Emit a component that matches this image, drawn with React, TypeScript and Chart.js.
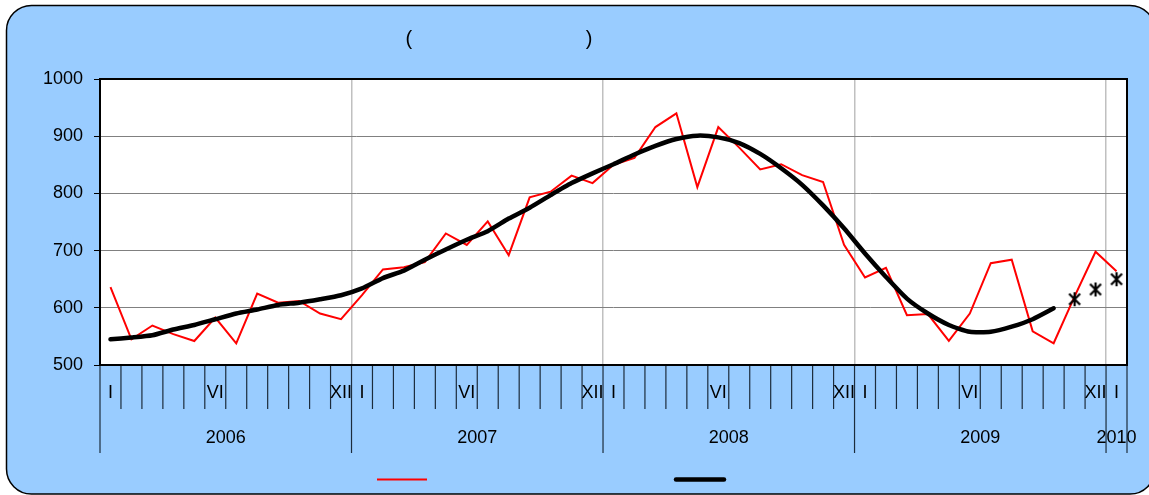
import React, { useEffect, useRef } from "react";
import { Chart, registerables } from "chart.js";

Chart.register(...registerables);

// ---------- data ----------
const years = ["2006", "2007", "2008", "2009", "2010"];
const monthsPerYear = [12, 12, 12, 12, 1];
const romanMonths = ["I", "II", "III", "IV", "V", "VI", "VII", "VIII", "IX", "X", "XI", "XII"];
const shownMonthLabels = ["I", "VI", "XII"];

const monthlyValues = [
  636, 545, 569, 554, 542, 583, 538, 625, 609, 612, 590, 580,
  622, 667, 671, 680, 730, 710, 751, 692, 793, 803, 831, 818,
  850, 862, 916, 940, 811, 916, 880, 842, 851, 832, 820, 710,
  653, 670, 587, 589, 542, 590, 678, 684, 559, 538, 620, 698,
  664,
];

const trendValues = [
  545, 548, 552, 562, 570, 580, 590, 597, 605, 609, 615, 622,
  634, 652, 665, 684, 702, 719, 734, 756, 775, 797, 818, 835,
  851, 868, 883, 895, 901, 898, 888, 869, 844, 815, 779, 739,
  695, 654, 616, 590, 570, 558, 558, 567, 580, 599,
];

const forecastValues = [615, 632, 650];

const yMin = 500;
const yMax = 1000;
const yStep = 100;

const titleLeft = "(";
const titleRight = ")";

// ---------- derived ----------
const categories: string[] = [];
const categoryMonth: string[] = [];
years.forEach((y, yi) => {
  for (let m = 0; m < monthsPerYear[yi]; m++) {
    categories.push(`${romanMonths[m]}-${y}`);
    categoryMonth.push(romanMonths[m]);
  }
});
const N = categories.length;
const trendData: (number | null)[] = categories.map((_, i) => (i < trendValues.length ? trendValues[i] : null));
const forecastStart = N - forecastValues.length;
const forecastData: (number | null)[] = categories.map((_, i) =>
  i >= forecastStart ? forecastValues[i - forecastStart] : null
);
const yearStartIdx: number[] = [];
{
  let acc = 0;
  monthsPerYear.forEach((c) => {
    yearStartIdx.push(acc);
    acc += c;
  });
}

const FONT = "'Liberation Sans', Arial, Helvetica, sans-serif";

function makeStar(): HTMLCanvasElement {
  const c = document.createElement("canvas");
  c.width = 16;
  c.height = 16;
  const g = c.getContext("2d")!;
  g.strokeStyle = "#000";
  g.lineWidth = 2.2;
  g.beginPath();
  g.moveTo(8, 1);
  g.lineTo(8, 15);
  g.moveTo(2.5, 2.5);
  g.lineTo(13.5, 13.5);
  g.moveTo(13.5, 2.5);
  g.lineTo(2.5, 13.5);
  g.stroke();
  return c;
}

const decorPlugin = {
  id: "decor",
  beforeDraw(chart: any) {
    const { ctx, chartArea } = chart;
    ctx.save();
    ctx.beginPath();
    (ctx as any).roundRect(6.5, 5.5, 1155 - 6.5, 494 - 5.5, 25);
    ctx.fillStyle = "#99CCFF";
    ctx.fill();
    ctx.lineWidth = 1.5;
    ctx.strokeStyle = "#000";
    ctx.stroke();
    ctx.fillStyle = "#FFFFFF";
    ctx.fillRect(chartArea.left, chartArea.top, chartArea.right - chartArea.left, chartArea.bottom - chartArea.top);
    ctx.restore();
  },
  beforeDatasetsDraw(chart: any) {
    const { ctx, chartArea } = chart;
    ctx.save();
    ctx.strokeStyle = "#000";
    ctx.lineWidth = 2;
    ctx.strokeRect(chartArea.left, chartArea.top, chartArea.right - chartArea.left, chartArea.bottom - chartArea.top);
    ctx.restore();
  },
  afterDraw(chart: any) {
    const { ctx, chartArea } = chart;
    const x = chart.scales.x;
    const bottom = chartArea.bottom;
    ctx.save();
    // month separators and year separators
    const longIdx = new Set<number>([...yearStartIdx, N]);
    ctx.strokeStyle = "#1c2c3c";
    ctx.lineWidth = 1.2;
    for (let k = 0; k <= N; k++) {
      const px = x.getPixelForValue(k - 0.5);
      ctx.beginPath();
      ctx.moveTo(px, bottom + 1);
      ctx.lineTo(px, longIdx.has(k) ? bottom + 88 : bottom + 44);
      ctx.stroke();
    }
    // month labels
    ctx.fillStyle = "#000";
    ctx.font = `18px ${FONT}`;
    ctx.textAlign = "center";
    ctx.textBaseline = "middle";
    for (let i = 0; i < N; i++) {
      const lbl = categoryMonth[i];
      if (shownMonthLabels.includes(lbl)) {
        ctx.fillText(lbl, x.getPixelForValue(i), bottom + 28.5);
      }
    }
    // year labels
    years.forEach((y, yi) => {
      const a = x.getPixelForValue(yearStartIdx[yi] - 0.5);
      const b = x.getPixelForValue(yearStartIdx[yi] + monthsPerYear[yi] - 0.5);
      ctx.fillText(y, (a + b) / 2, bottom + 73);
    });
    // title
    ctx.font = `20px ${FONT}`;
    ctx.textBaseline = "alphabetic";
    ctx.textAlign = "left";
    ctx.fillText(titleLeft, 405.5, 45);
    ctx.textAlign = "right";
    ctx.fillText(titleRight, 592.5, 45);
    // legend
    ctx.lineCap = "butt";
    ctx.strokeStyle = "#FF0000";
    ctx.lineWidth = 2;
    ctx.beginPath();
    ctx.moveTo(377, 479.5);
    ctx.lineTo(427, 479.5);
    ctx.stroke();
    ctx.strokeStyle = "#000";
    ctx.lineWidth = 4.5;
    ctx.lineCap = "round";
    ctx.beginPath();
    ctx.moveTo(676, 479.5);
    ctx.lineTo(724, 479.5);
    ctx.stroke();
    ctx.restore();
  },
};

export default function App() {
  const ref = useRef<HTMLCanvasElement | null>(null);
  useEffect(() => {
    if (!ref.current) return;
    const star = makeStar();
    const chart = new Chart(ref.current, {
      type: "line",
      data: {
        labels: categories,
        datasets: [
          {
            data: monthlyValues,
            borderColor: "#FF0000",
            borderWidth: 2,
            pointRadius: 0,
            tension: 0,
            order: 3,
          },
          {
            data: trendData,
            borderColor: "#000000",
            borderWidth: 4.5,
            pointRadius: 0,
            tension: 0.2,
            borderCapStyle: "round",
            borderJoinStyle: "round",
            spanGaps: false,
            order: 2,
          },
          {
            data: forecastData,
            showLine: false,
            pointStyle: star as any,
            pointRadius: 8,
            order: 1,
          },
        ],
      },
      options: {
        responsive: false,
        animation: false,
        devicePixelRatio: 1,
        layout: { padding: { top: 79, right: 22, left: 0, bottom: 0 } },
        plugins: {
          legend: { display: false },
          title: { display: false },
          tooltip: { enabled: false },
        },
        scales: {
          x: {
            type: "category",
            offset: true,
            grid: {
              offset: true,
              drawTicks: false,
              color: (c: any) =>
                c.index > 0 && c.index < N && yearStartIdx.includes(c.index) ? "#C0C0C0" : "rgba(0,0,0,0)",
              lineWidth: 1.5,
            },
            border: { display: false },
            ticks: { display: false },
            afterFit: (s: any) => {
              s.height = 130;
            },
          },
          y: {
            min: yMin,
            max: yMax,
            ticks: {
              stepSize: yStep,
              color: "#000",
              font: { family: FONT, size: 18 },
              padding: 11,
              callback: (v: any) => String(v),
            },
            grid: {
              color: "#808080",
              lineWidth: 1,
              tickLength: 6,
              tickColor: "#000",
            },
            border: { display: false },
            afterFit: (s: any) => {
              s.width = 100;
            },
          },
        },
      },
      plugins: [decorPlugin],
    });
    return () => chart.destroy();
  }, []);
  return (
    <div style={{ position: "fixed", left: 0, top: 0, width: 1149, height: 495 }}>
      <canvas ref={ref} width={1149} height={495} style={{ display: "block" }} />
    </div>
  );
}
